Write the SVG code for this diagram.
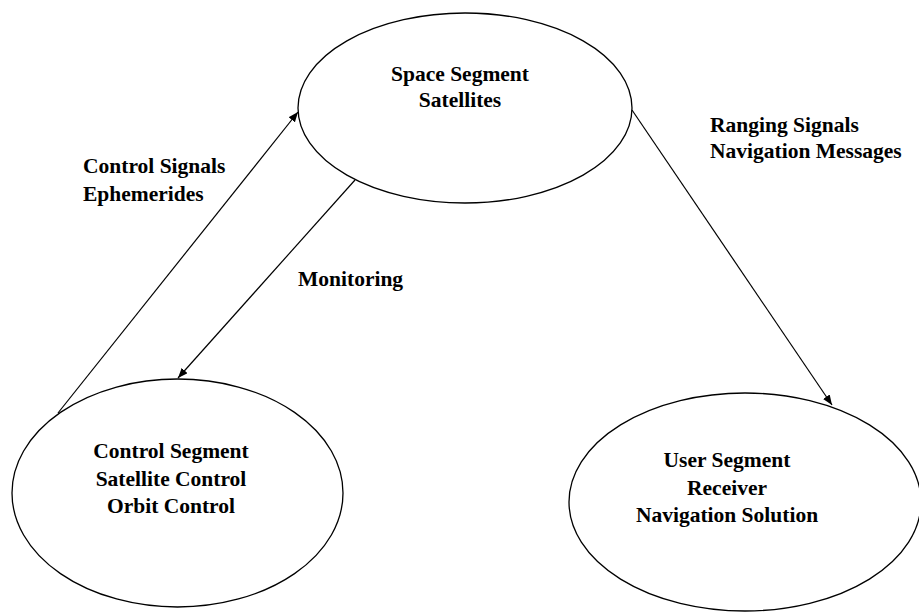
<svg xmlns="http://www.w3.org/2000/svg" width="919" height="612" viewBox="0 0 919 612">
  <style>
    .node ellipse { fill: #ffffff; stroke: #000000; stroke-width: 1.3; }
    .node text { font-family: "Liberation Serif", "Times New Roman", serif; font-weight: bold; font-size: 21.5px; fill: #000000; text-anchor: middle; }
    .edge line { stroke: #000000; stroke-width: 1.2; marker-end: url(#arrow); }
    .label { font-family: "Liberation Serif", "Times New Roman", serif; font-weight: bold; font-size: 21.5px; fill: #000000; }
  </style>
  <defs>
    <marker id="arrow" viewBox="0 0 10 8" refX="10" refY="4" markerWidth="10" markerHeight="8" markerUnits="userSpaceOnUse" orient="auto">
      <path d="M0,0 L10,4 L0,8 Z" fill="#000000"/>
    </marker>
  </defs>
  <rect width="919" height="612" fill="#ffffff"/>

  <g id="space-segment" class="node">
    <ellipse cx="465" cy="108" rx="167" ry="95"/>
    <text x="460" y="81">Space Segment</text>
    <text x="460" y="107">Satellites</text>
  </g>

  <g id="control-segment" class="node">
    <ellipse cx="177.5" cy="493" rx="165.5" ry="114"/>
    <text x="171" y="458">Control Segment</text>
    <text x="171" y="486">Satellite Control</text>
    <text x="171" y="513">Orbit Control</text>
  </g>

  <g id="user-segment" class="node">
    <ellipse cx="745" cy="502" rx="176" ry="109"/>
    <text x="727" y="467">User Segment</text>
    <text x="727" y="495">Receiver</text>
    <text x="727" y="522">Navigation Solution</text>
  </g>

  <g id="connectors" class="edge">
    <line x1="58" y1="413" x2="298" y2="112"/>
    <line x1="355" y1="180" x2="178" y2="378"/>
    <line x1="632" y1="110" x2="832" y2="405"/>
  </g>

  <g id="connector-labels">
    <text class="label" x="83" y="173">Control Signals</text>
    <text class="label" x="83" y="201">Ephemerides</text>
    <text class="label" x="298" y="286">Monitoring</text>
    <text class="label" x="710" y="132">Ranging Signals</text>
    <text class="label" x="710" y="158">Navigation Messages</text>
  </g>
</svg>
